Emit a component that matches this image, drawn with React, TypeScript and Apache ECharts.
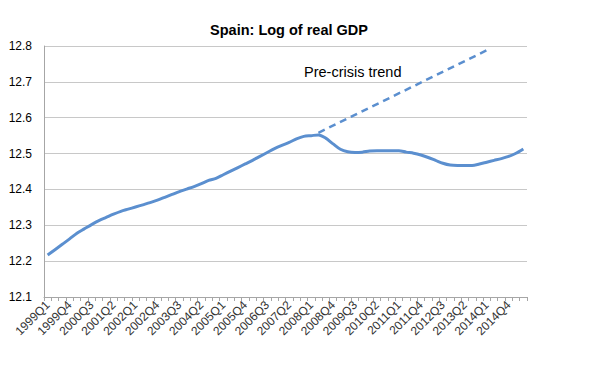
import React, { useEffect, useRef } from "react";
import * as echarts from "echarts";

const startYear = 1999;
const quarterCount = 66;
const categories: string[] = Array.from({ length: quarterCount }, (_, i) => `${startYear + Math.floor(i / 4)}Q${(i % 4) + 1}`);

const logGdp: number[] = [
  12.217, 12.232, 12.247, 12.262, 12.278, 12.29, 12.302, 12.313, 12.322, 12.331,
  12.339, 12.345, 12.351, 12.357, 12.363, 12.37, 12.378, 12.386, 12.394, 12.401,
  12.408, 12.416, 12.425, 12.431, 12.441, 12.451, 12.461, 12.471, 12.481, 12.492,
  12.503, 12.514, 12.523, 12.531, 12.541, 12.548, 12.55, 12.552, 12.543, 12.527,
  12.512, 12.505, 12.503, 12.504, 12.507, 12.508, 12.508, 12.508, 12.508, 12.504,
  12.501, 12.496, 12.489, 12.481, 12.473, 12.468, 12.467, 12.467, 12.467, 12.471,
  12.476, 12.481, 12.486, 12.492, 12.501, 12.513,
];

// Pre-crisis trend: start and end points only
const trendStartIndex = 37;
const trendStartValue = 12.558;
const trendEndIndex = 60;
const trendEndValue = 12.788;

const yTicks = { min: 12.1, max: 12.8, interval: 0.1 };

export default function App() {
  const ref = useRef<HTMLDivElement>(null);
  useEffect(() => {
    document.body.style.margin = "0";
    if (!ref.current) return;
    const chart = echarts.init(ref.current, null, { renderer: "svg" });
    const trend: (number | null)[] = categories.map((_, i) =>
      i === trendStartIndex ? trendStartValue : i === trendEndIndex ? trendEndValue : null
    );
    const blue = "#5b8fcf";
    chart.setOption({
      animation: false,
      title: {
        text: "Spain: Log of real GDP",
        left: 284,
        textAlign: "center",
        top: 17,
        textStyle: { fontFamily: "Liberation Sans", fontSize: 14.5, fontWeight: "bold", color: "#000" },
      },
      grid: { left: 44, right: 65, top: 46, bottom: 73, containLabel: false },
      xAxis: {
        type: "category",
        data: categories,
        boundaryGap: true,
        axisLine: { lineStyle: { color: "#a6a6a6", width: 1 } },
        axisTick: { show: true, interval: 0, length: 4, lineStyle: { color: "#a6a6a6" } },
        axisLabel: {
          interval: 2,
          rotate: 45,
          fontFamily: "Liberation Sans",
          fontSize: 12,
          color: "#333",
          margin: 6,
        },
        splitLine: { show: false },
      },
      yAxis: {
        type: "value",
        min: yTicks.min,
        max: yTicks.max,
        interval: yTicks.interval,
        axisLine: { show: true, lineStyle: { color: "#a6a6a6", width: 1 } },
        axisTick: { show: false },
        axisLabel: {
          fontFamily: "Liberation Sans",
          fontSize: 12,
          color: "#000",
          margin: 12,
          formatter: (v: number) => v.toFixed(1),
        },
        splitLine: { lineStyle: { color: "#c8c8c8", width: 1.2 } },
      },
      series: [
        {
          type: "line",
          data: logGdp,
          symbol: "none",
          smooth: 0.3,
          lineStyle: { color: blue, width: 3 },
        },
        {
          type: "line",
          data: trend,
          connectNulls: true,
          symbol: "none",
          lineStyle: { color: blue, width: 2.5, type: [7, 5] },
        },
      ],
      graphic: [
        {
          type: "text",
          left: 304,
          top: 64,
          style: { text: "Pre-crisis trend", font: "14.5px Liberation Sans", fill: "#000" },
        },
      ],
    });
    return () => chart.dispose();
  }, []);
  return <div ref={ref} style={{ width: 592, height: 370 }} />;
}
